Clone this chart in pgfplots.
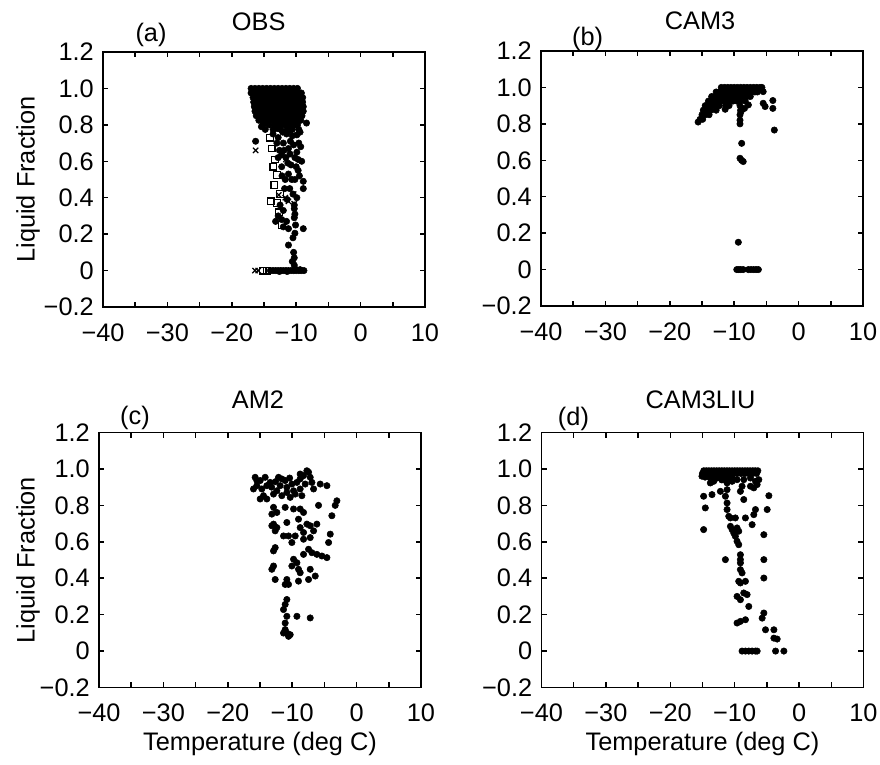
\documentclass[border=0pt]{standalone}
\usepackage{fontspec}
\setmainfont{Liberation Sans}
\usepackage{pgfplots}
\pgfplotsset{compat=1.18}
\newcommand{\fs}{\fontsize{19}{22}\selectfont}

\pgfplotsset{
  panel/.style={
    scale only axis, width=241.5pt, height=191.25pt, anchor=south west,
    xmin=-40, xmax=10, ymin=-0.2, ymax=1.2,
    xtick={-40,-30,-20,-10,0,10}, xticklabels={−40,−30,−20,−10,0,10},
    minor xtick={-35,-25,-15,-5,5},
    ytick={-0.2,0,0.2,0.4,0.6,0.8,1.0,1.2},
    yticklabels={−0.2,0,0.2,0.4,0.6,0.8,1.0,1.2},
    tick align=inside, major tick length=4pt, minor tick length=4pt,
    tick style={black, line width=1.1pt},
    axis line style={line width=1.4pt},
    tick label style={font=\fs, inner sep=0pt},
    xticklabel style={anchor=center, yshift=-19pt},
    yticklabel style={anchor=east, xshift=-6.75pt},
  },
  dots/.style={only marks, mark=*, mark size=2.4pt, black},
}

\begin{document}
\begin{tikzpicture}
\path[use as bounding box] (0,0) rectangle (660pt,573pt);

% ---------- (a) OBS ----------
\begin{axis}[panel, name=A, at={(77.25pt,342.75pt)}]
% dense block
\addplot[dots] coordinates {
 (-17.0,1.0) (-16.4,1.0) (-15.8,1.0) (-15.2,1.0) (-14.6,1.0) (-14.0,1.0) (-13.4,1.0)
 (-12.8,1.0) (-12.2,1.0) (-11.6,1.0) (-11.0,1.0) (-10.4,1.0) (-9.8,1.0)
 (-17.0,0.975) (-16.4,0.975) (-15.8,0.975) (-15.2,0.975) (-14.6,0.975) (-14.0,0.975)
 (-13.4,0.975) (-12.8,0.975) (-12.2,0.975) (-11.6,0.975) (-11.0,0.975) (-10.4,0.975)
 (-9.8,0.975) (-9.2,0.975)
 (-16.7,0.95) (-16.1,0.95) (-15.5,0.95) (-14.9,0.95) (-14.3,0.95) (-13.7,0.95)
 (-13.1,0.95) (-12.5,0.95) (-11.9,0.95) (-11.3,0.95) (-10.7,0.95) (-10.1,0.95)
 (-9.5,0.95) (-9.0,0.95)
 (-16.6,0.925) (-16.0,0.925) (-15.4,0.925) (-14.8,0.925) (-14.2,0.925) (-13.6,0.925)
 (-13.0,0.925) (-12.4,0.925) (-11.8,0.925) (-11.2,0.925) (-10.6,0.925) (-10.0,0.925)
 (-9.4,0.925) (-9.0,0.925)
 (-16.5,0.9) (-15.9,0.9) (-15.3,0.9) (-14.7,0.9) (-14.1,0.9) (-13.5,0.9) (-12.9,0.9)
 (-12.3,0.9) (-11.7,0.9) (-11.1,0.9) (-10.5,0.9) (-9.9,0.9) (-9.3,0.9) (-8.9,0.9)
 (-16.4,0.875) (-15.8,0.875) (-15.2,0.875) (-14.6,0.875) (-14.0,0.875) (-13.4,0.875)
 (-12.8,0.875) (-12.2,0.875) (-11.6,0.875) (-11.0,0.875) (-10.4,0.875) (-9.8,0.875)
 (-9.2,0.875) (-8.9,0.875)
 (-16.2,0.85) (-15.6,0.85) (-15.0,0.85) (-14.4,0.85) (-13.8,0.85) (-13.2,0.85)
 (-12.6,0.85) (-12.0,0.85) (-11.4,0.85) (-10.8,0.85) (-10.2,0.85) (-9.6,0.85) (-9.1,0.85)
 (-15.8,0.825) (-15.2,0.825) (-14.6,0.825) (-14.0,0.825) (-13.4,0.825) (-12.8,0.825)
 (-12.2,0.825) (-11.6,0.825) (-11.0,0.825) (-10.4,0.825) (-9.8,0.825) (-9.3,0.825)
 (-15.2,0.8) (-14.2,0.8) (-13.4,0.8) (-12.6,0.8) (-11.8,0.8) (-11.0,0.8) (-10.4,0.8) (-9.8,0.8)
 (-14.8,0.775) (-13.6,0.775) (-12.4,0.775) (-11.4,0.775) (-10.6,0.775) (-9.6,0.775)
};
% scattered circles
\addplot[dots] coordinates {
 (-8.4,0.81) (-16.3,0.71) (-8.9,0.49) (-8.9,0.45) (-9.15,0.60) (-9.7,0.55) (-10.2,0.50)
 (-10.2,0.31) (-10.3,0.29) (-10.1,0.25) (-8.9,0.23) (-10.2,0.205) (-11.2,0.23)
 (-12.25,0.28) (-12.8,0.30) (-11.2,0.14) (-10.4,0.10) (-10.3,0.07) (-10.3,0.03)
 (-10.6,0.05) (-9.7,0.61) (-11.2,0.53) (-10.7,0.50) (-11.7,0.50) (-12.25,0.57)
 (-10.96,0.64) (-10.4,0.69) (-12.0,0.70) (-11.5,0.75) (-9.9,0.745) (-13.3,0.78)
 (-14.6,0.81) (-15.4,0.79) (-12.8,0.73) (-11.2,0.67) (-12.25,0.635) (-9.9,0.65)
 (-9.9,0.40) (-10.3,0.36) (-10.3,0.34) (-11.8,0.45) (-11.0,0.45) (-10.5,0.42)
 (-12.0,0.33) (-11.5,0.27) (-9.6,0.70) (-10.8,0.58) (-11.6,0.62) (-12.6,0.66)
 (-13.0,0.70) (-10.0,0.80) (-9.4,0.76) (-11.0,0.77) (-12.1,0.76) (-13.6,0.75)
 (-10.6,0.74) (-9.3,0.68) (-10.2,0.62) (-11.4,0.39) (-12.5,0.36) (-12.0,0.24)
 (-13.2,0.27) (-10.5,0.18) (-10.9,0.71) (-11.9,0.66) (-10.0,0.57) (-12.2,0.52)
 (-11.3,0.59) (-9.5,0.52) (-12.8,0.62) (-10.7,0.79) (-12.9,0.78)
};
% zero row
\addplot[dots] coordinates {
 (-14.0,0) (-13.6,0) (-13.2,0) (-12.8,0) (-12.4,0) (-12.0,0) (-11.6,0) (-11.2,0)
 (-10.8,0) (-10.4,0) (-10.0,0) (-9.6,0) (-9.2,0) (-8.8,0) (-12.6,-0.005)
 (-11.4,-0.005) (-10.2,0.01) (-9.4,0.005)
};
% open squares
\addplot[only marks, mark=square, mark size=2.5pt, black, line width=0.9pt] coordinates {
 (-14.07,0.73) (-13.8,0.67) (-13.3,0.61) (-13.55,0.57) (-13.0,0.525) (-13.4,0.47)
 (-13.9,0.38) (-13.0,0.37) (-12.7,0.32) (-12.25,0.25) (-12.5,0.42) (-15.2,0) (-14.6,0)
 (-13.2,0.83) (-14.5,0.86)
};
% crosses
\addplot[only marks, mark=x, mark size=2.8pt, black, line width=0.9pt] coordinates {
 (-16.3,0.66) (-12.7,0.415) (-10.4,0.42) (-10.3,0.367) (-11.6,0.61) (-16.4,0)
 (-15.9,0) (-11.7,0.40) (-11.2,0.38) (-15.8,0.89)
};
\end{axis}

% ---------- (b) CAM3 ----------
\begin{axis}[panel, name=B, at={(405.75pt,343.5pt)}]
\addplot[dots] coordinates {
 (-12.0,1.0) (-11.5,1.0) (-11.0,1.0) (-10.5,1.0) (-10.0,1.0) (-9.5,1.0) (-9.0,1.0)
 (-8.5,1.0) (-8.0,1.0) (-7.5,1.0) (-7.0,1.0) (-6.5,1.0) (-6.0,1.0) (-5.7,1.0)
 (-12.8,0.975) (-12.3,0.975) (-11.8,0.975) (-11.3,0.975) (-10.8,0.975) (-10.3,0.975)
 (-9.8,0.975) (-9.3,0.975) (-8.8,0.975) (-8.3,0.975) (-7.8,0.975) (-7.3,0.975)
 (-6.8,0.975) (-6.4,0.975) (-5.5,0.977)
 (-13.5,0.95) (-13.0,0.95) (-12.5,0.95) (-12.0,0.95) (-11.5,0.95) (-11.0,0.95)
 (-10.5,0.95) (-10.0,0.95) (-9.5,0.95) (-9.0,0.95) (-8.5,0.95) (-8.0,0.95) (-7.5,0.95)
 (-14.0,0.925) (-13.5,0.925) (-13.0,0.925) (-12.5,0.925) (-12.0,0.925) (-11.5,0.925)
 (-11.0,0.925) (-10.2,0.925) (-9.6,0.925) (-9.1,0.925) (-8.3,0.925)
 (-14.5,0.9) (-14.0,0.9) (-13.5,0.9) (-13.0,0.9) (-12.3,0.9) (-11.3,0.9) (-10.8,0.9)
 (-9.1,0.9) (-7.8,0.904)
 (-14.8,0.875) (-14.3,0.875) (-13.6,0.875) (-12.8,0.875) (-11.4,0.88) (-9.0,0.875)
 (-15.0,0.85) (-14.5,0.85) (-13.9,0.85) (-9.1,0.85) (-8.4,0.885)
 (-15.3,0.825) (-14.9,0.825) (-15.6,0.81)
 (-9.1,0.82) (-9.1,0.80) (-8.95,0.867)
 (-5.5,0.913) (-5.2,0.895) (-4.0,0.928) (-4.0,0.885) (-3.77,0.766)
 (-8.84,0.693) (-9.1,0.611) (-8.85,0.60) (-8.6,0.593) (-9.36,0.15)
 (-9.6,0) (-9.3,0) (-9.0,0) (-8.6,0) (-7.8,0) (-7.4,0) (-7.0,0) (-6.6,0) (-6.25,0)
};
\end{axis}

% ---------- (c) AM2 ----------
\begin{axis}[panel, name=C, at={(74.25pt,57.375pt)}]
\addplot[dots] coordinates {
 (-15.75,0.954) (-14.97,0.936) (-14.20,0.954) (-15.49,0.908) (-16.01,0.89) (-14.72,0.89)
 (-13.94,0.908) (-13.42,0.926) (-14.46,0.853) (-14.97,0.835) (-13.94,0.835) (-12.90,0.862)
 (-12.12,0.954) (-11.61,0.945) (-11.09,0.936) (-11.87,0.908) (-10.83,0.899) (-10.05,0.917)
 (-9.27,0.926) (-8.76,0.945) (-8.24,0.963) (-7.46,0.982) (-7.20,0.954) (-7.98,0.917)
 (-8.76,0.89) (-9.79,0.88) (-10.83,0.871) (-10.31,0.844) (-11.61,0.853) (-12.38,0.88)
 (-9.53,0.862) (-8.50,0.853) (-6.68,0.89) (-5.65,0.917) (-4.61,0.908) (-8.76,0.972)
 (-7.72,0.99) (-6.94,0.926) (-15.49,0.936) (-12.6,0.93) (-13.2,0.9) (-10.4,0.95)
 (-12.90,0.789) (-13.16,0.752) (-12.38,0.761) (-11.09,0.789) (-9.79,0.78) (-8.76,0.78)
 (-8.24,0.761) (-12.90,0.697) (-12.38,0.678) (-13.16,0.688) (-12.64,0.66) (-10.83,0.706)
 (-11.35,0.632) (-10.57,0.632) (-10.05,0.596) (-9.53,0.632) (-8.76,0.678) (-8.24,0.651)
 (-7.72,0.697) (-7.20,0.688) (-6.68,0.66) (-6.17,0.697) (-5.91,0.80) (-3.84,0.743)
 (-3.32,0.80) (-3.06,0.825) (-4.09,0.642) (-4.35,0.596) (-9.02,0.724) (-8.24,0.614)
 (-7.20,0.623) (-12.64,0.568) (-12.90,0.55) (-8.24,0.531) (-7.46,0.559) (-6.94,0.54)
 (-6.17,0.531) (-5.39,0.522) (-4.61,0.513) (-9.79,0.504) (-10.05,0.467) (-9.27,0.485)
 (-9.02,0.449) (-8.76,0.43) (-12.90,0.467) (-13.16,0.449) (-12.64,0.393) (-10.83,0.393)
 (-10.57,0.366) (-9.02,0.384) (-7.46,0.393) (-7.20,0.449) (-6.42,0.412) (-11.09,0.366)
 (-10.83,0.283) (-11.09,0.256) (-11.35,0.228) (-10.83,0.191) (-9.27,0.191) (-7.20,0.182)
 (-11.09,0.154) (-11.09,0.118) (-10.83,0.099) (-10.31,0.09) (-10.57,0.081) (-11.35,0.099)
};
\end{axis}

% ---------- (d) CAM3LIU ----------
\begin{axis}[panel, name=D, at={(406.1pt,57.375pt)}]
\addplot[dots] coordinates {
 (-14.8,0.99) (-14.4,0.99) (-14.0,0.99) (-13.6,0.99) (-13.2,0.99) (-12.8,0.99)
 (-12.4,0.99) (-12.0,0.99) (-11.6,0.99) (-11.2,0.99) (-10.8,0.99) (-10.4,0.99)
 (-10.0,0.99) (-9.6,0.99) (-9.2,0.99) (-8.8,0.99) (-8.4,0.99) (-8.0,0.99) (-7.6,0.99)
 (-7.2,0.99) (-6.8,0.99) (-6.4,0.99)
 (-15.0,0.975) (-14.4,0.975) (-13.8,0.975) (-13.2,0.975) (-12.6,0.975) (-12.0,0.975)
 (-11.4,0.975) (-10.8,0.975) (-10.2,0.975) (-9.6,0.975) (-9.0,0.975) (-8.4,0.975)
 (-7.8,0.975) (-7.2,0.975) (-6.6,0.975)
 (-14.6,0.955) (-14.0,0.955) (-13.4,0.955) (-12.8,0.955) (-12.2,0.955) (-11.6,0.955)
 (-11.0,0.955) (-10.4,0.955)
 (-13.2,0.94) (-12.0,0.94) (-11.2,0.94) (-10.6,0.94)
 (-15.08,0.96) (-13.78,0.923) (-13.26,0.932) (-12.74,0.95) (-11.96,0.941) (-11.18,0.923)
 (-10.40,0.932) (-9.63,0.941) (-8.59,0.941) (-7.55,0.95) (-6.77,0.932) (-6.25,0.941)
 (-6.51,0.914) (-7.03,0.896) (-8.85,0.905) (-9.11,0.877) (-11.18,0.886) (-12.22,0.877)
 (-13.52,0.859) (-14.82,0.85) (-11.44,0.85) (-8.59,0.832) (-7.55,0.905) (-4.69,0.853)
 (-14.56,0.786) (-11.18,0.813) (-11.18,0.777) (-10.92,0.74) (-10.66,0.731) (-9.89,0.731)
 (-8.33,0.731) (-6.77,0.777) (-7.03,0.749) (-4.95,0.777) (-7.29,0.694) (-14.82,0.667)
 (-10.66,0.685) (-10.40,0.667) (-10.14,0.648) (-9.63,0.676) (-9.37,0.658) (-9.89,0.63)
 (-9.63,0.603) (-9.37,0.584) (-5.47,0.639) (-9.11,0.529) (-9.11,0.502) (-9.11,0.484)
 (-11.44,0.502) (-5.47,0.502) (-9.11,0.447) (-8.85,0.429) (-9.37,0.383) (-9.11,0.374)
 (-8.33,0.383) (-5.47,0.401) (-9.63,0.30) (-9.11,0.282) (-8.59,0.319) (-8.07,0.31)
 (-7.81,0.245) (-5.47,0.209) (-5.73,0.181) (-9.63,0.154) (-9.11,0.163) (-8.33,0.172)
 (-5.21,0.117) (-3.91,0.117) (-3.91,0.071) (-3.40,0.066)
 (-8.85,0) (-8.33,0) (-7.81,0) (-7.29,0) (-6.77,0) (-6.51,0) (-3.65,0) (-2.36,0)
};
\end{axis}

% ---------- titles and labels ----------
\node[font=\fs] at ([xshift=-4pt,yshift=23pt]A.north) {OBS};
\node[font=\fs] at ([xshift=-1.5pt,yshift=23pt]B.north) {CAM3};
\node[font=\fs] at ([xshift=-1.5pt,yshift=24.5pt]C.north) {AM2};
\node[font=\fs] at ([xshift=-1.5pt,yshift=24.5pt]D.north) {CAM3LIU};
\node[font=\fs] at ([xshift=36pt,yshift=12.5pt]A.north west) {(a)};
\node[font=\fs] at ([xshift=35pt,yshift=9pt]B.north west) {(b)};
\node[font=\fs] at ([xshift=27pt,yshift=11pt]C.north west) {(c)};
\node[font=\fs] at ([xshift=24pt,yshift=10.5pt]D.north west) {(d)};
\node[font=\fs, rotate=90] at (21pt,0 |- A.west) {Liquid Fraction};
\node[font=\fs, rotate=90] at (21pt,0 |- C.west) {Liquid Fraction};
\node[font=\fs] at (C.south |- 0,15pt) {Temperature (deg C)};
\node[font=\fs] at (D.south |- 0,15pt) {Temperature (deg C)};
\end{tikzpicture}
\end{document}
